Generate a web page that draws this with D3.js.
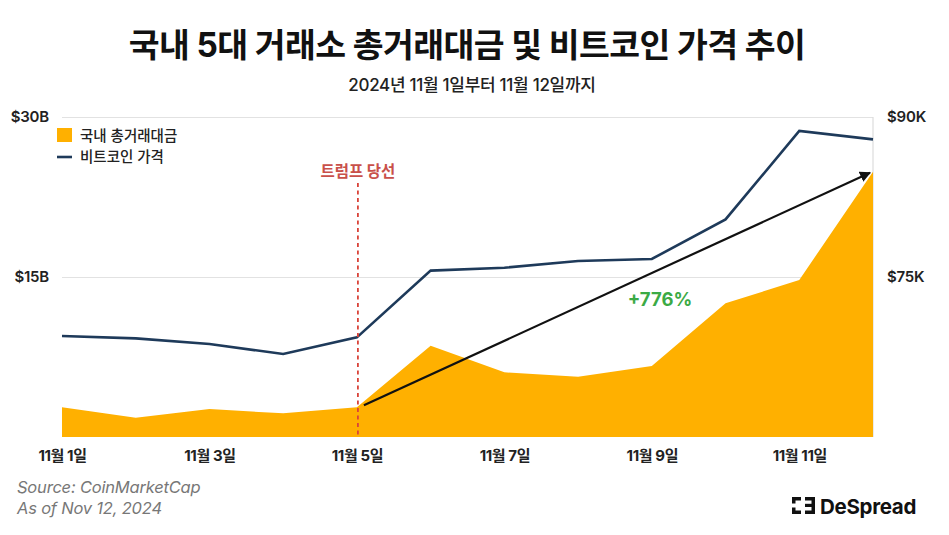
<!DOCTYPE html>
<html>
<head>
<meta charset="utf-8">
<script src="https://cdn.jsdelivr.net/npm/d3@7"></script>
<style>
  html, body { margin: 0; padding: 0; background: #fff; }
  svg { display: block; font-family: Inter, "Noto Sans CJK KR", sans-serif; }
</style>
</head>
<body>
<svg id="chart" width="949" height="535"></svg>
<script>
// ---- Data ----
const days = [1, 2, 3, 4, 5, 6, 7, 8, 9, 10, 11, 12];
const tradeVolumeB = [2.78, 1.81, 2.62, 2.22, 2.78, 8.56, 6.06, 5.66, 6.66, 12.53, 14.72, 24.87];
const btcPriceK = [69.47, 69.25, 68.72, 67.78, 69.34, 75.6, 75.87, 76.5, 76.69, 80.4, 88.69, 87.9];
const xTickDays = [1, 3, 5, 7, 9, 11];
const leftTicks = [15, 30];
const rightTicks = [75, 90];
const electionDay = 5;
const changeLabel = "+776%";

const title = "국내 5대 거래소 총거래대금 및 비트코인 가격 추이";
const subtitle = "2024년 11월 1일부터 11월 12일까지";
const legendLabels = ["국내 총거래대금", "비트코인 가격"];

// ---- Layout ----
const svg = d3.select("#chart");
const pL = 62, pR = 873, pT = 117, pB = 437;
const x = d3.scaleLinear().domain([1, 12]).range([pL, pR]);
const yL = d3.scaleLinear().domain([0, 30]).range([pB, pT]);
const yR = d3.scaleLinear().domain([60, 90]).range([pB, pT]);

const orange = "#FFB000", navy = "#1E3A5A";

// Title
svg.append("text").attr("x", 467).attr("y", 45)
  .attr("text-anchor", "middle").attr("dominant-baseline", "central")
  .attr("font-size", 33.5).attr("font-weight", 700).attr("letter-spacing", -0.6)
  .attr("fill", "#111").text(title);
svg.append("text").attr("x", 472).attr("y", 85)
  .attr("text-anchor", "middle").attr("dominant-baseline", "central")
  .attr("font-size", 17).attr("font-weight", 500).attr("letter-spacing", -0.3)
  .attr("fill", "#222").text(subtitle);

// Gridlines (left axis)
const gl = svg.append("g").attr("transform", `translate(${pL},0)`)
  .call(d3.axisLeft(yL).tickValues(leftTicks).tickSize(-(pR - pL)).tickFormat(""));
gl.select(".domain").remove();
gl.selectAll(".tick line").attr("stroke", "#e2e2e2").attr("stroke-width", 1.2);

// right frame line
svg.append("line").attr("x1", pR).attr("x2", pR).attr("y1", pT).attr("y2", pB)
  .attr("stroke", "#dcdcdc").attr("stroke-width", 1.2);

// Area
const area = d3.area().x((d, i) => x(days[i])).y0(yL(0)).y1(d => yL(d));
svg.append("path").datum(tradeVolumeB).attr("d", area).attr("fill", orange);

// Price line
const line = d3.line().x((d, i) => x(days[i])).y(d => yR(d));
svg.append("path").datum(btcPriceK).attr("d", line)
  .attr("fill", "none").attr("stroke", navy).attr("stroke-width", 2.6)
  .attr("stroke-linejoin", "miter");

// Election dashed line
const ex = x(electionDay) + 1;
svg.append("line").attr("x1", ex).attr("x2", ex).attr("y1", 183).attr("y2", pB)
  .attr("stroke", "#D9443A").attr("stroke-width", 1.8).attr("stroke-dasharray", "4,3.5");
svg.append("text").attr("x", ex).attr("y", 171)
  .attr("text-anchor", "middle").attr("dominant-baseline", "central")
  .attr("font-size", 15.5).attr("font-weight", 700).attr("fill", "#C9504A").text("트럼프 당선");

// Arrow
svg.append("defs").append("marker").attr("id", "ah")
  .attr("viewBox", "0 0 10 10").attr("refX", 9).attr("refY", 5)
  .attr("markerWidth", 5).attr("markerHeight", 5).attr("orient", "auto")
  .append("path").attr("d", "M0,0 L10,5 L0,10 z").attr("fill", "#111");
const i5 = days.indexOf(electionDay), iEnd = days.length - 1;
svg.append("line")
  .attr("x1", x(days[i5]) + 7).attr("y1", yL(tradeVolumeB[i5]) - 2)
  .attr("x2", x(days[iEnd]) - 3).attr("y2", yL(tradeVolumeB[iEnd]) + 1)
  .attr("stroke", "#111").attr("stroke-width", 2.2).attr("marker-end", "url(#ah)");

svg.append("text").attr("x", 660).attr("y", 299)
  .attr("text-anchor", "middle").attr("dominant-baseline", "central")
  .attr("font-size", 18.5).attr("font-weight", 700).attr("fill", "#3BAA45").text(changeLabel);

// Left axis labels
const al = svg.append("g").attr("transform", `translate(49,0)`)
  .call(d3.axisLeft(yL).tickValues(leftTicks).tickSize(0).tickPadding(0).tickFormat(d => `$${d}B`));
al.select(".domain").remove();
al.selectAll("text").attr("font-size", 15).attr("font-weight", 600).attr("fill", "#222")
  .attr("font-family", "Inter, sans-serif").attr("letter-spacing", -0.2);

// Right axis labels
const ar = svg.append("g").attr("transform", `translate(887,0)`)
  .call(d3.axisRight(yR).tickValues(rightTicks).tickSize(0).tickPadding(0).tickFormat(d => `$${d}K`));
ar.select(".domain").remove();
ar.selectAll("text").attr("font-size", 15).attr("font-weight", 600).attr("fill", "#222")
  .attr("font-family", "Inter, sans-serif").attr("letter-spacing", -0.2);

// X axis labels
const ax = svg.append("g").attr("transform", `translate(0,${pB})`)
  .call(d3.axisBottom(x).tickValues(xTickDays).tickSize(0).tickPadding(13).tickFormat(d => `11월 ${d}일`));
ax.select(".domain").remove();
ax.selectAll("text").attr("font-size", 15).attr("font-weight", 700).attr("fill", "#222")
  .attr("font-family", "Inter, 'Noto Sans CJK KR', sans-serif").attr("letter-spacing", -0.4);

// Legend
svg.append("rect").attr("x", 57).attr("y", 128).attr("width", 15).attr("height", 14).attr("fill", orange);
svg.append("text").attr("x", 80).attr("y", 135).attr("dominant-baseline", "central")
  .attr("font-size", 14.5).attr("font-weight", 500).attr("fill", "#222").text(legendLabels[0]);
svg.append("line").attr("x1", 57).attr("x2", 72).attr("y1", 157).attr("y2", 157)
  .attr("stroke", navy).attr("stroke-width", 2.6);
svg.append("text").attr("x", 80).attr("y", 156).attr("dominant-baseline", "central")
  .attr("font-size", 14.5).attr("font-weight", 500).attr("fill", "#222").text(legendLabels[1]);

// Source
svg.append("text").attr("x", 17).attr("y", 487).attr("dominant-baseline", "central")
  .attr("font-size", 16.5).attr("font-style", "italic").attr("fill", "#777").attr("letter-spacing", -0.2)
  .text("Source: CoinMarketCap");
svg.append("text").attr("x", 17).attr("y", 508).attr("dominant-baseline", "central")
  .attr("font-size", 16.5).attr("font-style", "italic").attr("fill", "#777").attr("letter-spacing", -0.2)
  .text("As of Nov 12, 2024");

// Logo
const lg = svg.append("g").attr("fill", "#111");
[[792,497,9,3.5],[792,497,3.5,6.5],[792,510.5,9,3.5],[792,507.5,3.5,6.5],
 [805,497,10,3.5],[811.5,497,3.5,17],[805,503.8,10,3.2],[805,510.5,10,3.5]]
  .forEach(r => lg.append("rect").attr("x", r[0]).attr("y", r[1]).attr("width", r[2]).attr("height", r[3]));
svg.append("text").attr("x", 820).attr("y", 506).attr("dominant-baseline", "central")
  .attr("font-size", 20.5).attr("font-weight", 700).attr("letter-spacing", -0.3).attr("fill", "#111")
  .attr("font-family", "Inter, sans-serif").text("DeSpread");
</script>
</body>
</html>
